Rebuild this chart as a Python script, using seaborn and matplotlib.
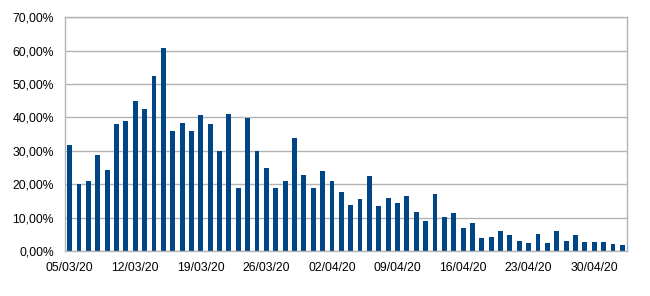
import matplotlib
matplotlib.use("Agg")
import matplotlib.pyplot as plt
import seaborn as sns
import pandas as pd
import numpy as np
from matplotlib.ticker import FuncFormatter, FixedLocator

dates = pd.date_range("2020-03-05", "2020-05-03", freq="D")
day_labels = [d.strftime("%d/%m/%y") for d in dates]
values = [
    31.7, 20.1, 20.9, 28.8, 24.4, 38.0, 38.9, 45.0, 42.4, 52.4,
    60.8, 35.9, 38.4, 35.9, 40.6, 37.9, 30.0, 40.9, 18.8, 39.9,
    29.9, 24.8, 18.8, 20.9, 33.8, 22.8, 18.8, 23.9, 20.9, 17.8,
    13.8, 15.7, 22.4, 13.5, 15.9, 14.4, 16.4, 11.6, 8.9, 17.0,
    10.2, 11.5, 6.9, 8.4, 3.9, 4.3, 5.9, 4.7, 2.9, 2.4,
    5.2, 2.5, 6.0, 3.0, 4.7, 2.7, 2.7, 2.7, 2.2, 1.8,
]
tick_labels = ["05/03/20", "12/03/20", "19/03/20", "26/03/20", "02/04/20",
               "09/04/20", "16/04/20", "23/04/20", "30/04/20"]

df = pd.DataFrame({"pos": np.arange(len(values)), "value": values})

sns.set_style("white")
plt.rcParams["font.family"] = ["Liberation Sans", "DejaVu Sans"]

fig = plt.figure(figsize=(6.5, 2.96), dpi=100)
ax = fig.add_axes([0.1, 0.152, 0.8646, 0.7895])

sns.barplot(data=df, x="pos", y="value", color="#004586", saturation=1,
            width=0.52, native_scale=True, ax=ax, linewidth=0)

ax.set_xlim(-0.5, len(values) - 0.5)
ax.set_ylim(0, 70)
ax.set_yticks(np.arange(0, 71, 10))
ax.yaxis.set_major_formatter(FuncFormatter(lambda v, p: f"{v:.2f}".replace(".", ",") + "%"))

centers = [day_labels.index(t) for t in tick_labels]
ax.set_xticks(centers)
ax.set_xticklabels(tick_labels)
ax.xaxis.set_minor_locator(FixedLocator([c - 0.5 for c in centers]))
ax.tick_params(axis="x", which="major", length=0, pad=8, labelsize=8.7, colors="black")
ax.tick_params(axis="x", which="minor", length=4, width=1, color="#b3b3b3", direction="out")
ax.tick_params(axis="y", which="major", length=4, width=1, color="#b3b3b3", pad=4,
               labelsize=8.7, labelcolor="black", direction="out")
ax.set_xlabel("")
ax.set_ylabel("")

ax.grid(axis="y", color="#b3b3b3", linewidth=1)
ax.set_axisbelow(True)
for s in ax.spines.values():
    s.set_visible(True)
    s.set_color("#b3b3b3")
    s.set_linewidth(1)

fig.savefig("out.png", dpi=100)
